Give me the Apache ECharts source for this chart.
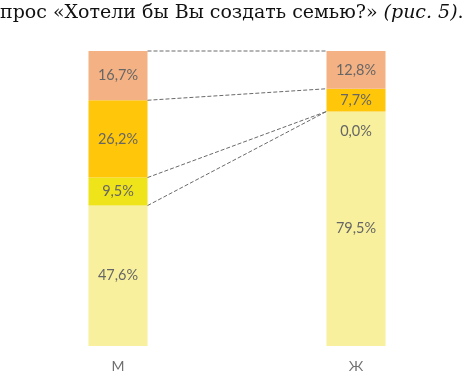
<!DOCTYPE html>
<html>
<head>
<meta charset="utf-8">
<script src="https://cdn.jsdelivr.net/npm/echarts@6/dist/echarts.min.js"></script>
<style>
  html, body { margin: 0; padding: 0; background: #fff; }
  #container { width: 467px; height: 373px; }
</style>
</head>
<body>
<div id="container"></div>
<script>
// data: categories and series values (percent), bottom to top
const categories = ["М", "Ж"];
const seriesNames = ["s1", "s2", "s3", "s4"];
const s1 = [47.6, 79.5];
const s2 = [9.5, 0.0];
const s3 = [26.2, 7.7];
const s4 = [16.7, 12.8];
const colors = ["#F8F09C", "#EFE31A", "#FFC60A", "#F4B183"];

const values = [s1, s2, s3, s4];
const barW = 59;

// cumulative tops of each series for the connector lines
const connectors = [];
for (let i = 0, c0 = 0, c1 = 0; i < values.length; i++) {
  c0 += values[i][0];
  c1 += values[i][1];
  connectors.push([c0, c1]);
}

function fmt(v) {
  return v.toFixed(1).replace(".", ",") + "%";
}

let myChart = echarts.init(document.getElementById("container")),
  option,
  series = [];

for (let i = 0; i < values.length; i++) {
  series.push({
    name: seriesNames[i],
    type: "bar",
    stack: "total",
    barWidth: barW,
    itemStyle: { color: colors[i] },
    label: {
      show: true,
      position: "inside",
      color: "#666",
      fontFamily: "Lato",
      fontSize: 14.5,
      formatter: function (p) {
        return fmt(p.value);
      }
    },
    labelLayout: function (p) {
      // zero-height segment: label sits just below its boundary
      if (p.rect.height < 1) return { dy: 20 };
      return {};
    },
    data: values[i]
  });
}

series.push({
  name: "lines",
  type: "custom",
  silent: true,
  z: 10,
  renderItem: function (params, api) {
    const a = api.coord([0, api.value(0)]);
    const b = api.coord([1, api.value(1)]);
    return {
      type: "line",
      shape: { x1: a[0] + barW / 2, y1: a[1], x2: b[0] - barW / 2, y2: b[1] },
      style: { stroke: "#6a6a6a", lineWidth: 1, lineDash: [4, 2] }
    };
  },
  data: connectors
});

option = {
  animation: false,
  graphic: [
    {
      type: "text",
      left: 0,
      top: 4,
      style: {
        text: "прос «Хотели бы Вы создать семью?» {i|(рис. 5)}.",
        fontFamily: "DejaVu Serif",
        fontSize: 19,
        fill: "#111",
        rich: {
          i: { fontFamily: "DejaVu Serif", fontStyle: "italic", fontSize: 19, fill: "#111" }
        }
      }
    }
  ],
  grid: {
    left: -1,
    width: 476,
    top: 51,
    bottom: 27,
    outerBoundsMode: "none",
    containLabel: false
  },
  xAxis: {
    type: "category",
    data: categories,
    axisLine: { show: false },
    axisTick: { show: false },
    axisLabel: {
      color: "#6f6f6f",
      fontFamily: "Lato",
      fontSize: 14,
      margin: 13
    }
  },
  yAxis: {
    type: "value",
    min: 0,
    max: 100,
    show: false
  },
  series: series
};

myChart.setOption(option);
</script>
</body>
</html>
